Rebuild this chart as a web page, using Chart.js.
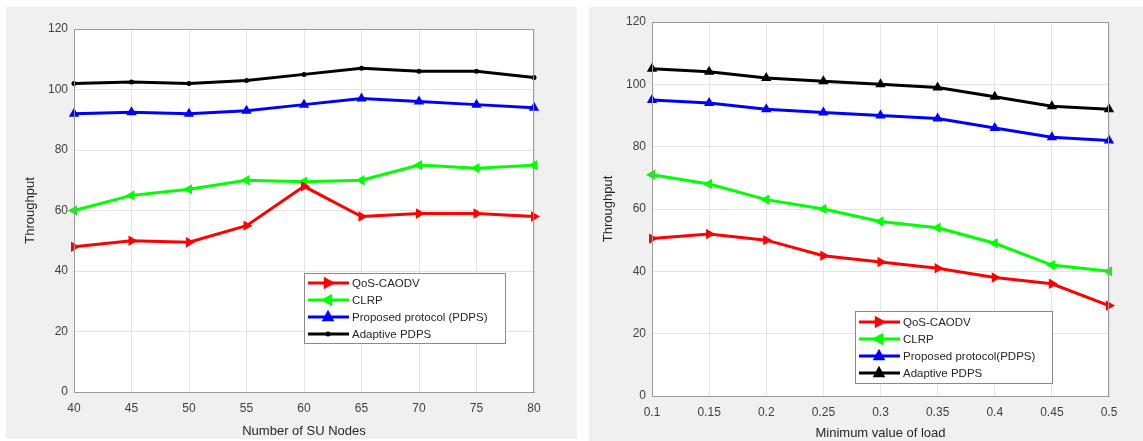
<!DOCTYPE html>
<html>
<head>
<meta charset="utf-8">
<script src="https://cdn.jsdelivr.net/npm/chart.js@4"></script>
<style>
  body { margin: 0; background: #fff; width: 1143px; height: 441px; overflow: hidden; position: relative; }
  .panel { position: absolute; background: #f0f0f0; }
  #p1 { left: 6px; top: 7px; width: 571px; height: 432px; }
  #p2 { left: 589px; top: 7px; width: 554px; height: 434px; }
</style>
</head>
<body>
<div class="panel" id="p1"><canvas id="c1" width="571" height="432"></canvas></div>
<div class="panel" id="p2"><canvas id="c2" width="554" height="434"></canvas></div>
<script>
// 左のグラフ: ノード数
const nodeLabels = ["40", "45", "50", "55", "60", "65", "70", "75", "80"];
const qosNodes = [48, 50, 49.5, 55, 68, 58, 59, 59, 58];
const clrpNodes = [60, 65, 67, 70, 69.5, 70, 75, 74, 75];
const pdpsNodes = [92, 92.5, 92, 93, 95, 97, 96, 95, 94];
const adaptNodes = [102, 102.5, 102, 103, 105, 107, 106, 106, 104];

// 右のグラフ: 最小負荷
const loadLabels = ["0.1", "0.15", "0.2", "0.25", "0.3", "0.35", "0.4", "0.45", "0.5"];
const qosLoad = [50.5, 52, 50, 45, 43, 41, 38, 36, 29];
const clrpLoad = [71, 68, 63, 60, 56, 54, 49, 42, 40];
const pdpsLoad = [95, 94, 92, 91, 90, 89, 86, 83, 82];
const adaptLoad = [105, 104, 102, 101, 100, 99, 96, 93, 92];

const yTicks = [0, 20, 40, 60, 80, 100, 120];

const FONT = "'Liberation Sans', Arial, sans-serif";

// プロット領域を白で塗り、枠を描く
const boxPlugin = {
  id: "box",
  beforeDraw(chart) {
    const a = chart.chartArea, ctx = chart.ctx;
    ctx.save();
    ctx.fillStyle = "#ffffff";
    ctx.fillRect(a.left, a.top, a.right - a.left, a.bottom - a.top);
    ctx.restore();
  },
  afterDatasetsDraw(chart) {
    const a = chart.chartArea, ctx = chart.ctx;
    ctx.save();
    ctx.strokeStyle = "#9a9a9a";
    ctx.lineWidth = 1;
    ctx.strokeRect(a.left + 0.5, a.top + 0.5, a.right - a.left - 1, a.bottom - a.top);
    ctx.restore();
  }
};

// 三角マーカー (rot: 0=上, 90=右, -90=左)
function drawMarker(ctx, ds, x, y) {
  const r = ds.pointRadius;
  ctx.save();
  ctx.translate(x, y);
  ctx.fillStyle = ds.pointBackgroundColor;
  if (ds.pointStyle === "circle") {
    ctx.beginPath();
    ctx.arc(0, 0, r, 0, Math.PI * 2);
    ctx.fill();
  } else {
    ctx.rotate((ds.pointRotation || 0) * Math.PI / 180);
    ctx.beginPath();
    ctx.moveTo(0, -r * 1.2);
    ctx.lineTo(r * 1.05, r * 0.7);
    ctx.lineTo(-r * 1.05, r * 0.7);
    ctx.closePath();
    ctx.fill();
  }
  ctx.restore();
}

// 凡例をプロット内に描く
const legendPlugin = {
  id: "boxLegend",
  afterDraw(chart, args, opts) {
    const ctx = chart.ctx;
    const { x, y, w, h, rows } = opts;
    ctx.save();
    ctx.fillStyle = "#ffffff";
    ctx.fillRect(x, y, w, h);
    ctx.strokeStyle = "#8a8a8a";
    ctx.lineWidth = 1;
    ctx.strokeRect(x + 0.5, y + 0.5, w, h);
    chart.data.datasets.forEach((ds, i) => {
      const ry = y + rows[i];
      ctx.strokeStyle = ds.borderColor;
      ctx.lineWidth = 3;
      ctx.beginPath();
      ctx.moveTo(x + 4, ry);
      ctx.lineTo(x + 45, ry);
      ctx.stroke();
      drawMarker(ctx, ds, x + 24, ry);
      ctx.fillStyle = "#262626";
      ctx.font = "11.5px " + FONT;
      ctx.textBaseline = "middle";
      ctx.fillText(ds.label, x + 48, ry + 1);
    });
    ctx.restore();
  }
};

function makeDatasets(labels4, red, green, blue, black, blackStyle) {
  return [
    { label: labels4[0], data: red, borderColor: "#ff0000", pointBackgroundColor: "#ff0000",
      pointStyle: "triangle", pointRotation: 90, pointRadius: 6 },
    { label: labels4[1], data: green, borderColor: "#00ff00", pointBackgroundColor: "#00ff00",
      pointStyle: "triangle", pointRotation: -90, pointRadius: 6 },
    { label: labels4[2], data: blue, borderColor: "#0000ff", pointBackgroundColor: "#0000ff",
      pointStyle: "triangle", pointRotation: 0, pointRadius: 6 },
    Object.assign({ label: labels4[3], data: black, borderColor: "#000000", pointBackgroundColor: "#000000" }, blackStyle)
  ].map(d => Object.assign({ borderWidth: 3, pointBorderWidth: 0, tension: 0, clip: false }, d));
}

function makeChart(canvas, labels, datasets, cfg) {
  return new Chart(canvas, {
    type: "line",
    data: { labels: labels, datasets: datasets },
    options: {
      responsive: false,
      animation: false,
      layout: { padding: cfg.padding },
      plugins: {
        legend: { display: false },
        tooltip: { enabled: false },
        boxLegend: cfg.legend
      },
      scales: {
        x: {
          type: "category",
          offset: false,
          grid: { color: "#e4e4e4", drawTicks: false },
          border: { color: "#9a9a9a" },
          ticks: { color: "#404040", font: { family: FONT, size: 12 }, padding: 9, maxRotation: 0, autoSkip: false },
          title: { display: true, text: cfg.xTitle, color: "#262626", font: { family: FONT, size: 13 }, padding: { top: 2, bottom: 0 } },
          afterFit: s => { s.height = cfg.xHeight; }
        },
        y: {
          min: 0, max: 120,
          afterBuildTicks: s => { s.ticks = yTicks.map(v => ({ value: v })); },
          grid: { color: "#e4e4e4", drawTicks: false },
          border: { color: "#9a9a9a" },
          ticks: { color: "#404040", font: { family: FONT, size: 12 }, padding: 6 },
          title: { display: true, text: "Throughput", color: "#262626", font: { family: FONT, size: 13 }, padding: { top: cfg.yTitlePad, bottom: 0 } },
          afterFit: s => { s.width = cfg.yWidth; }
        }
      }
    },
    plugins: [boxPlugin, legendPlugin]
  });
}

makeChart(document.getElementById("c1"), nodeLabels,
  makeDatasets(["QoS-CAODV", "CLRP", "Proposed protocol (PDPS)", "Adaptive PDPS"],
    qosNodes, clrpNodes, pdpsNodes, adaptNodes,
    { pointStyle: "circle", pointRadius: 2.5 }),
  {
    padding: { left: 0, right: 43, top: 22, bottom: 0 },
    xHeight: 47, yWidth: 68, yTitlePad: 17,
    xTitle: "Number of SU Nodes",
    legend: { x: 298, y: 266, w: 201, h: 70, rows: [10, 27, 44, 61] }
  });

makeChart(document.getElementById("c2"), loadLabels,
  makeDatasets(["QoS-CAODV", "CLRP", "Proposed protocol(PDPS)", "Adaptive PDPS"],
    qosLoad, clrpLoad, pdpsLoad, adaptLoad,
    { pointStyle: "triangle", pointRotation: 0, pointRadius: 6 }),
  {
    padding: { left: 0, right: 34, top: 15, bottom: 0 },
    xHeight: 45, yWidth: 63, yTitlePad: 12,
    xTitle: "Minimum value of load",
    legend: { x: 266, y: 304, w: 197, h: 72, rows: [11, 28, 45, 62] }
  });
</script>
</body>
</html>
